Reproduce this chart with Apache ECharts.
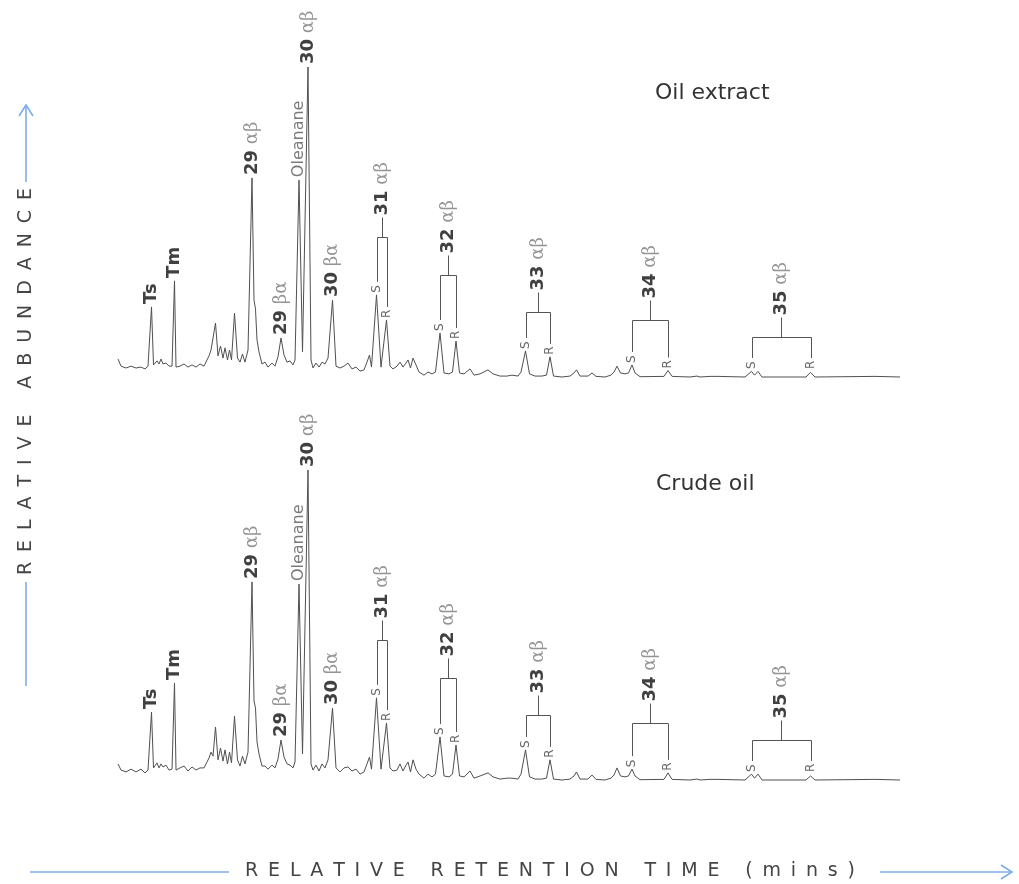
<!DOCTYPE html>
<html>
<head>
<meta charset="utf-8">
<script src="https://cdn.jsdelivr.net/npm/echarts@6/dist/echarts.min.js"></script>
<style>
  html, body { margin: 0; padding: 0; background: #fff; }
  #chart { width: 1019px; height: 884px; }
</style>
</head>
<body>
<div id="chart"></div>
<script>
// Hopane chromatograms (m/z 191): retention time (relative units) vs relative abundance (% of 30 αβ)
const panelTitles = ['Oil extract', 'Crude oil'];

const oilExtractTrace = [
  [0.0,5.8],[0.3,3.5],[0.8,2.9],[1.3,3.5],[1.8,2.9],[2.3,3.2],[2.7,2.6],[3.0,3.5],
  [3.15,3.2],[3.35,22.6],[3.55,3.9],
  [3.9,5.2],[4.1,4.2],[4.3,5.8],[4.5,4.2],[4.8,4.5],[5.1,3.5],[5.4,3.5],
  [5.5,3.5],[5.65,31.0],[5.8,3.2],
  [6.2,3.5],[6.6,4.2],[7.0,3.2],[7.4,3.9],[7.8,3.2],[8.2,4.2],[8.6,3.5],
  [8.9,5.5],[9.1,6.8],[9.3,8.7],[9.5,8.1],[9.75,17.4],[10.0,6.8],[10.25,10.0],[10.5,6.1],[10.7,9.4],[10.95,5.5],[11.15,8.7],[11.35,5.5],
  [11.65,20.6],[11.95,6.1],[12.2,4.8],[12.45,7.4],[12.7,4.8],[13.0,8.7],
  [13.4,64.2],[13.6,24.8],[13.75,21.9],[13.9,11.9],[14.1,8.1],[14.4,4.2],[14.7,4.8],[15.0,3.2],[15.4,4.5],[15.7,3.5],[16.0,6.5],
  [16.3,12.6],[16.6,7.1],[16.9,4.8],[17.2,5.2],[17.5,3.9],
  [17.7,5.5],[18.1,63.5],[18.45,8.1],
  [19.0,100],[19.3,5.5],[19.5,2.9],[19.8,4.5],[20.1,3.2],[20.4,4.8],[20.7,4.2],[21.0,6.1],
  [21.45,24.8],[21.8,3.5],[22.2,2.9],[22.6,3.5],[23.0,4.5],[23.4,2.6],[23.8,3.2],[24.2,1.9],[24.6,2.3],[24.9,4.8],[25.15,7.1],[25.35,3.2],
  [25.85,26.5],[26.3,3.2],[26.85,18.4],[27.2,3.5],[27.5,2.6],[27.9,3.5],[28.2,4.8],[28.5,3.2],[28.8,4.5],[29.0,5.5],[29.25,2.9],[29.5,6.1],[29.8,3.9],[30.1,1.6],[30.6,0.6],[31.0,1.6],[31.4,1.0],[31.75,1.6],
  [32.2,14.2],[32.6,1.3],[33.1,1.0],[33.45,1.6],[33.8,11.6],[34.15,1.3],[34.6,1.0],[35.2,2.6],[35.6,0.6],[36.2,1.0],[37.0,2.3],[37.5,1.0],[38.2,0.3],[38.9,0.3],[39.4,0.6],[40.0,0.3],[40.3,1.6],
  [40.75,8.4],[41.15,1.0],[41.7,0.3],[42.4,0.3],[42.85,0.6],[43.2,6.5],[43.55,0.3],[44.4,0],[45.2,0.3],[45.6,1.3],[45.85,2.3],[46.2,0.3],[47.0,0.3],[47.4,1.3],[47.8,0.2],[48.7,0],[49.3,0.6],[49.6,1.6],[49.9,3.5],[50.25,1.3],[50.7,1.0],[51.05,1.3],
  [51.4,3.9],[51.7,1.3],[52.2,0.1],[54.6,0.2],[55.0,2.1],[55.4,0.2],[57.2,0],[57.9,0.3],[58.2,0],[59.2,0.2],[60.0,0.2],[62.7,0],
  [63.35,1.8],[63.65,0.6],[64.0,1.8],[64.4,0],[68.8,0],[69.25,1.5],[69.7,0],[75.7,0.2],[75.9,0],[78.2,0]
];

const crudeOilTrace = [
  [0.0,5.2],[0.3,3.2],[0.8,2.6],[1.3,3.5],[1.8,2.6],[2.3,3.5],[2.7,2.3],[3.0,3.2],
  [3.15,3.2],[3.35,21.9],[3.55,3.9],
  [3.9,5.5],[4.1,3.9],[4.3,5.2],[4.5,4.2],[4.8,4.8],[5.1,3.2],[5.4,3.5],
  [5.5,3.5],[5.65,31.3],[5.8,3.2],
  [6.2,3.9],[6.6,4.5],[7.0,2.9],[7.4,4.2],[7.8,3.2],[8.2,3.9],[8.6,3.9],
  [8.9,5.8],[9.1,7.1],[9.3,9.0],[9.5,7.7],[9.75,17.1],[10.0,6.5],[10.25,10.3],[10.5,6.1],[10.7,9.7],[10.95,5.2],[11.15,9.0],[11.35,5.5],
  [11.65,20.6],[11.95,6.5],[12.2,4.5],[12.45,7.7],[12.7,5.2],[13.0,9.0],
  [13.4,63.9],[13.6,25.5],[13.75,23.2],[13.9,12.3],[14.1,8.4],[14.4,4.5],[14.7,4.5],[15.0,3.5],[15.4,4.8],[15.7,3.9],[16.0,6.8],
  [16.3,12.9],[16.6,7.4],[16.9,5.2],[17.2,4.8],[17.5,3.9],
  [17.7,5.8],[18.1,63.2],[18.45,8.4],
  [19.0,100],[19.3,5.2],[19.5,3.2],[19.8,4.8],[20.1,2.9],[20.4,5.2],[20.7,3.9],[21.0,6.5],
  [21.45,23.2],[21.8,3.9],[22.2,2.6],[22.6,3.9],[23.0,4.2],[23.4,2.9],[23.8,3.5],[24.2,1.9],[24.6,2.6],[24.9,5.2],[25.15,7.4],[25.35,3.5],
  [25.85,26.5],[26.3,3.5],[26.85,18.4],[27.2,3.9],[27.5,2.9],[27.9,3.2],[28.2,5.2],[28.5,2.9],[28.8,4.8],[29.0,5.8],[29.25,2.6],[29.5,6.5],[29.8,3.5],[30.1,1.9],[30.6,0.6],[31.0,1.9],[31.4,1.0],[31.75,1.9],
  [32.2,13.9],[32.6,1.3],[33.1,1.0],[33.45,1.9],[33.8,11.3],[34.15,1.3],[34.6,1.0],[35.2,2.9],[35.6,0.6],[36.2,1.3],[37.0,2.3],[37.5,1.0],[38.2,0.3],[38.9,0.6],[39.4,0.6],[40.0,0.3],[40.3,1.9],
  [40.75,9.7],[41.15,1.0],[41.7,0.3],[42.4,0.3],[42.85,0.6],[43.2,6.5],[43.55,0.3],[44.4,0],[45.2,0.3],[45.6,1.3],[45.85,2.6],[46.2,0.3],[47.0,0.3],[47.4,1.6],[47.8,0.2],[48.7,0],[49.3,0.6],[49.6,1.6],[49.9,3.9],[50.25,1.3],[50.7,1.0],[51.05,1.3],
  [51.4,3.5],[51.7,1.3],[52.2,0.1],[54.6,0.2],[55.0,2.3],[55.4,0.2],[57.2,0],[57.9,0.3],[58.2,0],[59.2,0.2],[60.0,0.2],[62.7,0],
  [63.35,1.9],[63.65,0.6],[64.0,1.9],[64.4,0],[68.8,0],[69.25,1.3],[69.7,0],[75.7,0.2],[75.9,0],[78.2,0]
];

// Single identified peaks
const peakNames = ['Ts', 'Tm', '29 αβ', '29 βα', 'Oleanane', '30 αβ', '30 βα'];
const peakTimes = [3.35, 5.65, 13.4, 16.3, 18.1, 19.0, 21.45];

// Extended hopanes: 22S / 22R epimer pairs
const hopaneNames = ['31 αβ', '32 αβ', '33 αβ', '34 αβ', '35 αβ'];
const hopaneSTimes = [25.85, 32.2, 40.75, 51.4, 63.35];
const hopaneRTimes = [26.85, 33.8, 43.2, 55.0, 69.25];

const yAxisTitle = 'RELATIVE ABUNDANCE';
const xAxisTitle = 'RELATIVE RETENTION TIME (mins)';

// ---- layout & style ----
const GRID = { left: 118, right: 119, height: 310, tops: [67, 470] };
const TIME_MAX = 78.2;
const bracketRise = [140, 102, 65, 57, 40];   // px above baseline for each bracket bar
const LINE = '#505050';
const ARROW = '#7caee6';
const AXIS_FONT = '19px "DejaVu Sans"';

const rich = {
  n: { fontFamily: 'DejaVu Sans', fontSize: 18, fontWeight: 'bold', fill: '#404040' },
  g: { fontFamily: 'DejaVu Serif', fontSize: 18, fill: '#959595' },
  o: { fontFamily: 'DejaVu Sans', fontSize: 16, fill: '#7a7a7a' }
};

function apexAt(trace, t) {
  let best = 0;
  for (const [x, v] of trace) if (Math.abs(x - t) <= 0.2 && v > best) best = v;
  return best;
}

function labelRich(name) {
  const m = name.match(/^(\d+) (.+)$/);
  if (m) return '{n|' + m[1] + '} {g|' + m[2] + '}';
  if (name === 'Oleanane') return '{o|' + name + '}';
  return '{n|' + name + '}';
}

function vText(x, y, text, style) {
  return {
    type: 'text', x: x, y: y, rotation: Math.PI / 2,
    style: Object.assign({ text: text, align: 'left', verticalAlign: 'middle', fill: '#333', font: '18px "DejaVu Sans"' }, style || {})
  };
}

function renderAnnotations(trace) {
  return function (params, api) {
    const children = [];
    const base = api.coord([0, 0])[1];
    const px = v => Math.round(v) + 0.5;

    peakNames.forEach((name, i) => {
      const t = peakTimes[i];
      const p = api.coord([t, apexAt(trace, t)]);
      children.push(vText(p[0], p[1] - 3, labelRich(name), { rich: rich }));
    });

    const anchor = y => Math.min(y - 2, base - 8);
    hopaneNames.forEach((name, i) => {
      const s = api.coord([hopaneSTimes[i], apexAt(trace, hopaneSTimes[i])]);
      const r = api.coord([hopaneRTimes[i], apexAt(trace, hopaneRTimes[i])]);
      const aS = anchor(s[1]), aR = anchor(r[1]);
      const barY = px(base - bracketRise[i]);
      const xs = px(s[0]), xr = px(r[0]), xm = px((s[0] + r[0]) / 2);
      children.push(vText(s[0], aS, 'S', { font: '12px "DejaVu Sans"', fill: '#666' }));
      children.push(vText(r[0], aR, 'R', { font: '12px "DejaVu Sans"', fill: '#666' }));
      children.push({
        type: 'polyline',
        shape: { points: [[xs, aS - 11], [xs, barY], [xr, barY], [xr, aR - 11]] },
        style: { stroke: '#555', lineWidth: 1, fill: null }
      });
      children.push({
        type: 'line',
        shape: { x1: xm, y1: barY, x2: xm, y2: barY - 20 },
        style: { stroke: '#555', lineWidth: 1 }
      });
      children.push(vText(xm, barY - 22, labelRich(name), { rich: rich }));
    });
    return { type: 'group', children: children };
  };
}

// Tracked (letter-spaced) axis titles: each glyph is placed so the string fills a given span
const measureCtx = document.createElement('canvas').getContext('2d');
measureCtx.font = AXIS_FONT;
function trackedOffsets(str, span) {
  const chars = Array.from(str);
  const widths = chars.map(c => measureCtx.measureText(c).width);
  const total = widths.reduce((a, b) => a + b, 0);
  const gap = (span - total) / (chars.length - 1);
  let pos = 0;
  return chars.map((c, i) => { const mid = pos + widths[i] / 2; pos += widths[i] + gap; return { c: c, mid: mid }; });
}

const graphics = [];
trackedOffsets(xAxisTitle, 610).forEach(({ c, mid }) => {
  if (c === ' ') return;
  graphics.push({ type: 'text', x: 245 + mid, y: 871,
    style: { text: c, font: AXIS_FONT, fill: '#454545', align: 'center', verticalAlign: 'middle' } });
});
trackedOffsets(yAxisTitle, 387).forEach(({ c, mid }) => {
  if (c === ' ') return;
  graphics.push({ type: 'text', x: 26, y: 575 - mid, rotation: Math.PI / 2,
    style: { text: c, font: AXIS_FONT, fill: '#454545', align: 'center', verticalAlign: 'middle' } });
});
const arrowStyle = { stroke: ARROW, lineWidth: 1.6, fill: null };
graphics.push(
  { type: 'line', shape: { x1: 26, y1: 686, x2: 26, y2: 582 }, style: arrowStyle },
  { type: 'line', shape: { x1: 26, y1: 182, x2: 26, y2: 106 }, style: arrowStyle },
  { type: 'polyline', shape: { points: [[19, 116], [26, 105], [33, 116]] }, style: arrowStyle },
  { type: 'line', shape: { x1: 30, y1: 872, x2: 229, y2: 872 }, style: arrowStyle },
  { type: 'line', shape: { x1: 880, y1: 872, x2: 1011, y2: 872 }, style: arrowStyle },
  { type: 'polyline', shape: { points: [[1001, 865], [1012, 872], [1001, 879]] }, style: arrowStyle }
);
graphics.push(
  { type: 'text', x: 655, y: 93, style: { text: panelTitles[0], font: '22px "DejaVu Sans"', fill: '#333', verticalAlign: 'middle' } },
  { type: 'text', x: 656, y: 484, style: { text: panelTitles[1], font: '22px "DejaVu Sans"', fill: '#333', verticalAlign: 'middle' } }
);

const traces = [oilExtractTrace, crudeOilTrace];
const option = {
  animation: false,
  backgroundColor: '#fff',
  grid: GRID.tops.map(top => ({ left: GRID.left, right: GRID.right, top: top, height: GRID.height })),
  xAxis: GRID.tops.map((_, i) => ({ type: 'value', gridIndex: i, min: 0, max: TIME_MAX, show: false })),
  yAxis: GRID.tops.map((_, i) => ({ type: 'value', gridIndex: i, min: 0, max: 100, show: false })),
  series: traces.flatMap((trace, i) => [
    { type: 'line', xAxisIndex: i, yAxisIndex: i, data: trace, symbol: 'none', silent: true, clip: false,
      lineStyle: { color: LINE, width: 1 } },
    { type: 'custom', xAxisIndex: i, yAxisIndex: i, data: [[0, 0]], silent: true, clip: false,
      renderItem: renderAnnotations(trace) }
  ]),
  graphic: graphics
};

const chart = echarts.init(document.getElementById('chart'), null, { renderer: 'canvas' });
chart.setOption(option);
</script>
</body>
</html>
